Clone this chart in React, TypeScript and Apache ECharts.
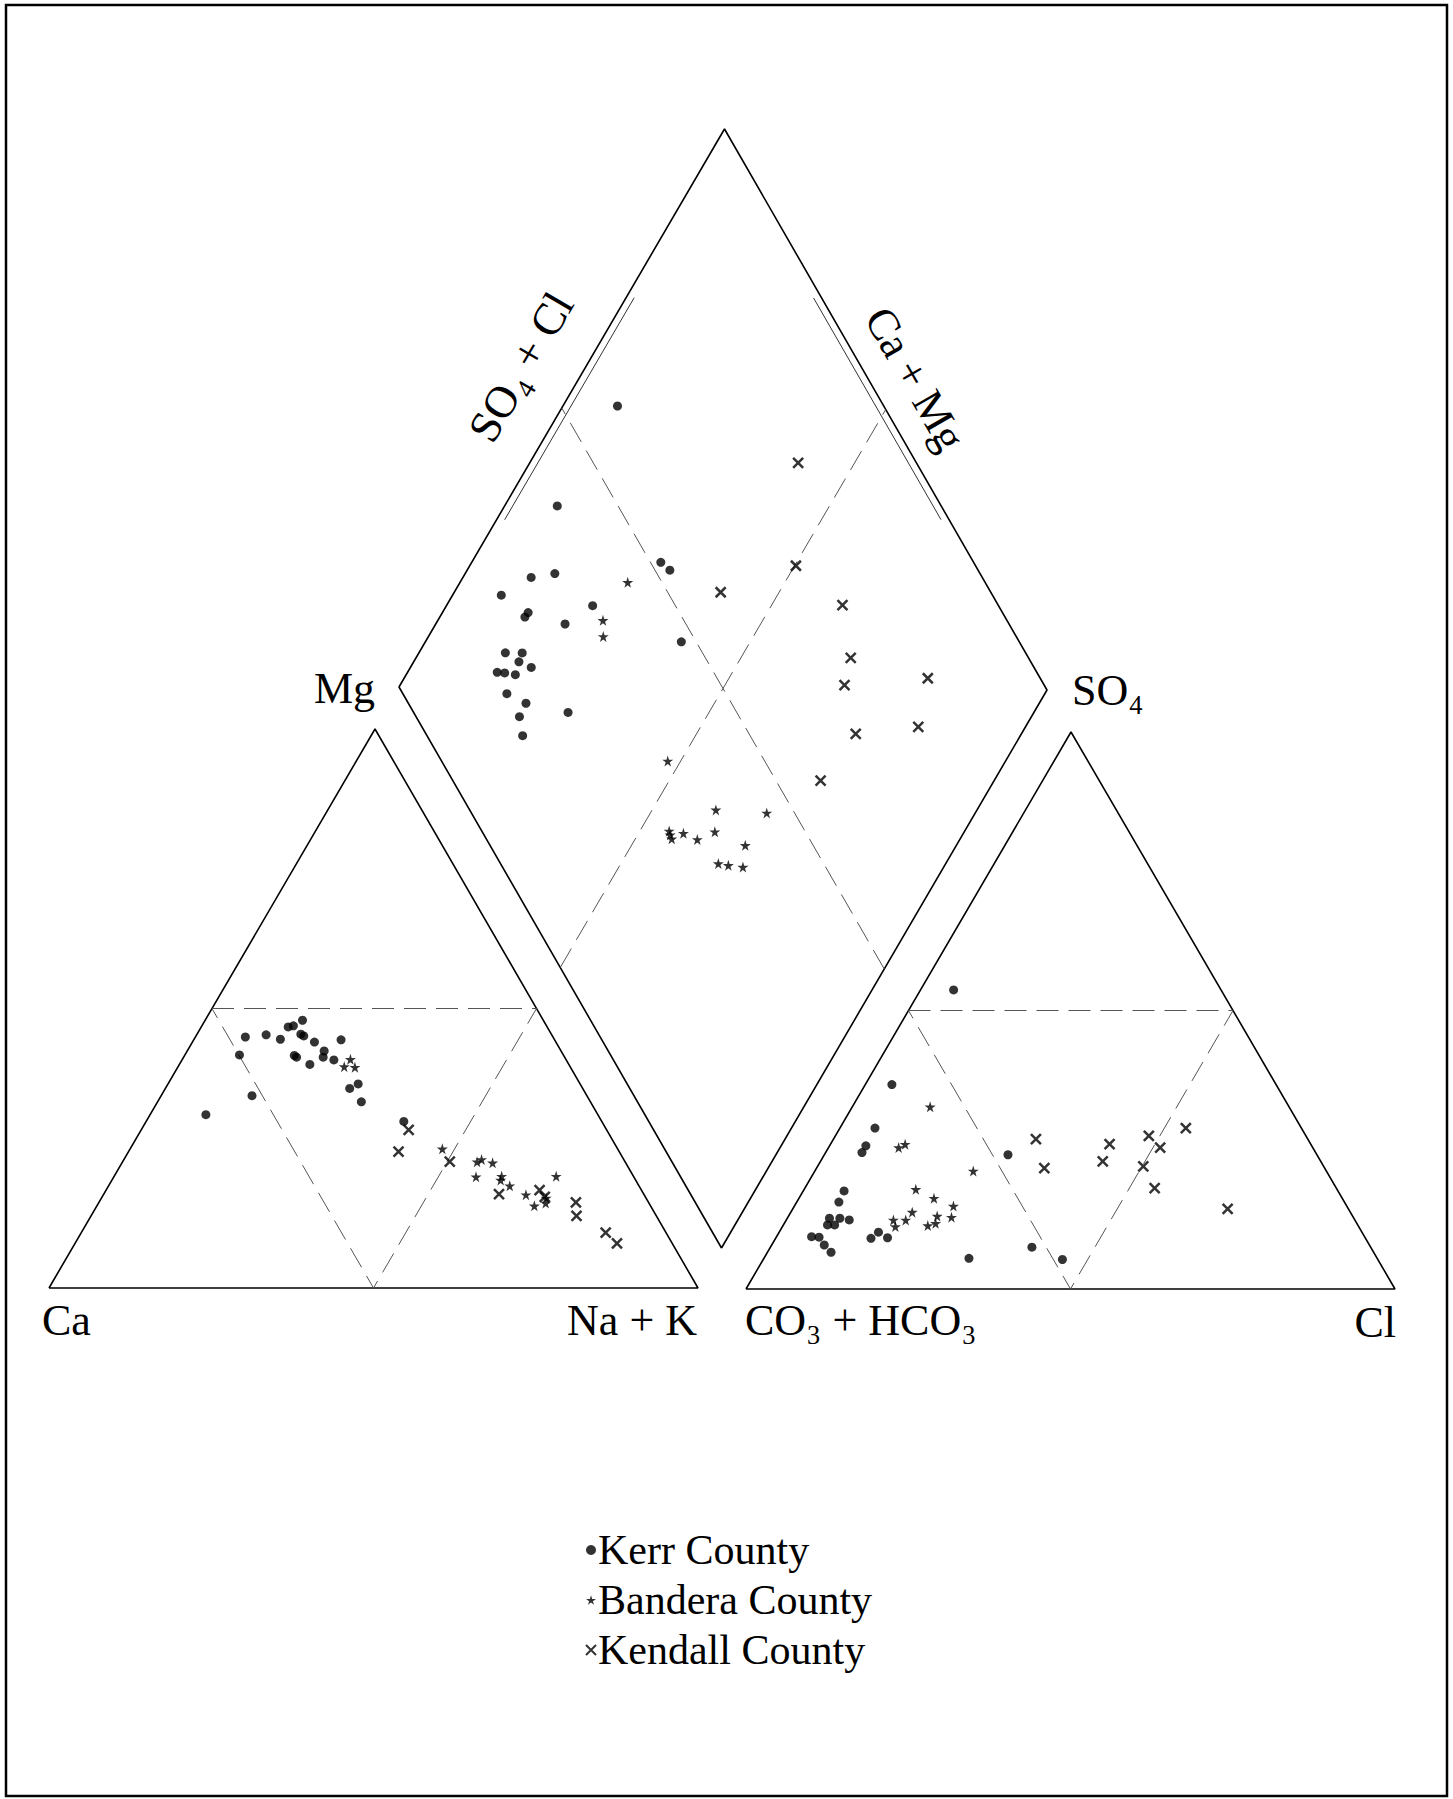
import React, { useEffect, useRef } from "react";
import * as echarts from "echarts";

// ---------- data (percent values) ----------
// Cation triangle: [Mg %, Na+K %]
const kerrCation = [
  [44.9, 7.7], [45.3, 10.7], [44.5, 13.3], [46.7, 13.4], [46.9, 14.1], [47.9, 15.0],
  [45.4, 16.0], [45.1, 16.6], [44.0, 18.8], [44.4, 22.7], [42.4, 21.1], [41.3, 21.5],
  [41.6, 16.9], [41.3, 17.4], [40.0, 20.1], [40.8, 23.4], [41.7, 8.4], [34.4, 14.0],
  [31.0, 8.6], [35.7, 28.4], [36.5, 29.3], [33.3, 31.4], [29.8, 39.7],
];
const banderaCation = [
  [40.9, 25.9], [39.6, 25.6], [39.5, 27.3], [24.9, 48.1], [22.6, 54.6], [23.0, 55.1],
  [22.4, 57.1], [19.9, 55.8], [20.0, 59.7], [19.3, 59.9], [18.3, 61.8], [16.7, 65.1],
  [20.0, 68.1], [14.7, 67.4], [15.2, 68.9], [16.1, 68.5],
];
const kendallCation = [
  [28.3, 41.2], [24.4, 41.6], [22.6, 50.4], [16.8, 60.9], [17.5, 66.8], [16.3, 68.2],
  [15.3, 73.5], [12.9, 74.8], [9.9, 80.8], [8.0, 83.5],
];

// Anion triangle: [SO4 %, Cl %]
const kerrAnion = [
  [53.7, 5.1], [36.7, 4.1], [28.9, 5.4], [25.7, 5.6], [24.5, 5.6], [17.6, 6.3],
  [15.6, 6.5], [12.7, 6.5], [12.7, 8.1], [12.4, 9.7], [11.5, 6.8], [11.5, 7.9],
  [9.4, 5.4], [9.3, 6.6], [7.9, 8.1], [6.6, 9.8], [9.1, 14.7], [10.2, 15.3],
  [9.2, 17.2], [5.5, 31.6], [24.1, 28.3], [7.5, 40.3], [5.3, 46.1],
];
const banderaAnion = [
  [32.7, 12.0], [25.4, 10.8], [26.0, 11.5], [21.2, 24.4], [17.9, 17.2], [16.3, 20.8],
  [14.9, 24.5], [13.8, 18.7], [12.4, 18.4], [12.4, 16.5], [11.2, 17.4], [13.1, 22.9],
  [11.8, 23.3], [11.4, 22.3], [12.9, 25.2],
];
const kendallAnion = [
  [26.9, 31.2], [21.7, 35.1], [26.0, 43.0], [22.9, 43.5], [27.5, 48.3], [25.4, 51.1],
  [28.9, 53.3], [22.0, 50.2], [18.1, 53.9], [14.4, 67.0],
];

// Diamond: [Ca+Mg %, SO4+Cl %]
const kerrDiamond = [
  [91.6, 58.8], [91.9, 40.6], [89.5, 30.2], [86.2, 34.2], [92.5, 24.0], [86.9, 25.7],
  [86.8, 26.6], [80.1, 31.3], [77.5, 37.2], [70.9, 51.6], [68.8, 52.3], [60.6, 47.7],
  [86.7, 19.5], [84.1, 22.1], [83.8, 20.8], [81.4, 22.2], [86.2, 16.5], [85.0, 17.6],
  [83.2, 19.1], [82.8, 16.1], [79.0, 18.2], [71.7, 23.9], [78.8, 16.0], [76.6, 14.8],
];
const banderaDiamond = [
  [74.2, 44.7], [74.6, 37.5], [73.1, 36.1], [52.0, 35.0], [40.2, 38.1], [32.1, 45.7],
  [45.5, 29.0], [45.0, 28.8], [44.4, 28.7], [43.1, 31.0], [40.4, 32.6], [38.4, 36.0],
  [32.5, 39.5], [35.0, 33.7], [33.3, 35.1], [30.9, 37.2],
];
const kendallDiamond = [
  [58.7, 81.7], [49.8, 72.2], [59.0, 58.2], [39.1, 75.9], [33.1, 72.5], [31.6, 69.1],
  [19.4, 82.6], [16.5, 76.8], [25.5, 66.5], [26.7, 56.9],
];

const seriesNames = ["Kerr County", "Bandera County", "Kendall County"];

// ---------- layout ----------
const W = 1453;
const H = 1799;
const CAT_A = [49, 1288];
const CAT_B = [698, 1288];
const CAT_C = [375, 729];
const AN_A = [746, 1289];
const AN_B = [1395, 1289];
const AN_C = [1071, 732];
const DIA_B = [721.5, 1248];
const DIA_L = [399, 687];
const DIA_R = [1047, 690];
const FONT = '"Liberation Serif", "Times New Roman", serif';

function tern(A: number[], B: number[], C: number[], b: number, c: number) {
  const fb = b / 100, fc = c / 100, fa = 1 - fb - fc;
  return [A[0] * fa + B[0] * fb + C[0] * fc, A[1] * fa + B[1] * fb + C[1] * fc];
}
const cat = (mg: number, nak: number) => tern(CAT_A, CAT_B, CAT_C, nak, mg);
const an = (so4: number, cl: number) => tern(AN_A, AN_B, AN_C, cl, so4);
function dia(camg: number, so4cl: number) {
  const a = camg / 100, s = so4cl / 100;
  return [
    DIA_B[0] + a * (DIA_L[0] - DIA_B[0]) + s * (DIA_R[0] - DIA_B[0]),
    DIA_B[1] + a * (DIA_L[1] - DIA_B[1]) + s * (DIA_R[1] - DIA_B[1]),
  ];
}

const STAR = "path://M50,0 L61,35 L98,35 L68,57 L79,91 L50,70 L21,91 L32,57 L2,35 L39,35 Z";
const CROSS = "path://M0,0 L10,10 M10,0 L0,10";

function lineSeries(points: number[][], dashed: boolean) {
  return {
    type: "line",
    data: points,
    symbol: "none",
    silent: true,
    z: 1,
    lineStyle: dashed
      ? { color: "#555", width: 1, type: [22, 10] }
      : { color: "#000", width: 1.6 },
  };
}

function offsetEdge(P: number[], Q: number[], t0: number, t1: number, off: number, side: number) {
  const dx = Q[0] - P[0], dy = Q[1] - P[1];
  const len = Math.hypot(dx, dy);
  const nx = (side * dy) / len, ny = (-side * dx) / len;
  return [
    [P[0] + dx * t0 + nx * off, P[1] + dy * t0 + ny * off],
    [P[0] + dx * t1 + nx * off, P[1] + dy * t1 + ny * off],
  ];
}

export default function App() {
  const ref = useRef<HTMLDivElement>(null);
  useEffect(() => {
    document.body.style.margin = "0";
    if (!ref.current) return;
    const chart = echarts.init(ref.current, undefined, { renderer: "svg" });

    const T = dia(100, 100);
    const outlines = [
      lineSeries([cat(0, 0), cat(0, 100), cat(100, 0), cat(0, 0)], false),
      lineSeries([an(0, 0), an(0, 100), an(100, 0), an(0, 0)], false),
      lineSeries([dia(0, 0), dia(100, 0), dia(100, 100), dia(0, 100), dia(0, 0)], false),
      lineSeries([cat(50, 0), cat(50, 50), cat(0, 50), cat(50, 0)], true),
      lineSeries([an(50, 0), an(50, 50), an(0, 50), an(50, 0)], true),
      lineSeries([dia(50, 0), dia(50, 100)], true),
      lineSeries([dia(0, 50), dia(100, 50)], true),
    ];
    const edgeL = offsetEdge(DIA_L, T, 0.306, 0.704, 7, -1);
    const edgeR = offsetEdge(T, DIA_R, 0.295, 0.69, 7, -1);
    const thin = (pts: number[][]) => ({
      type: "line",
      data: pts,
      symbol: "none",
      silent: true,
      lineStyle: { color: "#333", width: 1 },
    });

    const scatter = (name: string, symbol: string, size: number, data: number[][], extra: any) => ({
      type: "scatter",
      name,
      symbol,
      symbolSize: size,
      data,
      z: 3,
      itemStyle: extra,
    });

    const kerr = [
      ...kerrCation.map((d) => cat(d[0], d[1])),
      ...kerrAnion.map((d) => an(d[0], d[1])),
      ...kerrDiamond.map((d) => dia(d[0], d[1])),
    ];
    const bandera = [
      ...banderaCation.map((d) => cat(d[0], d[1])),
      ...banderaAnion.map((d) => an(d[0], d[1])),
      ...banderaDiamond.map((d) => dia(d[0], d[1])),
    ];
    const kendall = [
      ...kendallCation.map((d) => cat(d[0], d[1])),
      ...kendallAnion.map((d) => an(d[0], d[1])),
      ...kendallDiamond.map((d) => dia(d[0], d[1])),
    ];

    const txt = (text: string, x: number, y: number, align: string, size = 44, rotation = 0) => ({
      type: "text",
      x,
      y,
      rotation,
      silent: true,
      style: {
        text,
        x: 0,
        y: 0,
        font: `${size}px ${FONT}`,
        fill: "#000",
        textAlign: align,
        textVerticalAlign: "middle",
        align,
        verticalAlign: "middle",
      },
    });

    chart.setOption({
      animation: false,
      backgroundColor: "#fff",
      grid: { left: 0, top: 0, right: 0, bottom: 0 },
      xAxis: { type: "value", min: 0, max: W, show: false },
      yAxis: { type: "value", min: 0, max: H, inverse: true, show: false },
      legend: {
        data: seriesNames,
        orient: "vertical",
        left: 580,
        top: 1524,
        itemWidth: 10,
        itemHeight: 10,
        itemGap: 8,
        selectedMode: false,
        textStyle: { fontFamily: FONT, fontSize: 42, color: "#000", padding: [0, 0, 0, -3] },
      },
      graphic: [
        {
          type: "rect",
          silent: true,
          shape: { x: 6, y: 5, width: 1441, height: 1791 },
          style: { fill: "none", stroke: "#000", lineWidth: 2.5 },
        },
        txt("Mg", 314, 688, "left"),
        txt("SO₄", 1072, 690, "left"),
        txt("Ca", 42, 1320, "left"),
        txt("Na + K", 697, 1320, "right"),
        txt("CO₃ + HCO₃", 745, 1320, "left"),
        txt("Cl", 1396, 1322, "right"),
        txt("SO₄ + Cl", 521, 367, "center", 45, 1.044),
        txt("Ca + Mg", 915, 379, "center", 44, -1.05),
      ],
      series: [
        ...outlines,
        thin(edgeL),
        thin(edgeR),
        scatter(seriesNames[0], "circle", 9, kerr, { color: "#000" }),
        scatter(seriesNames[1], STAR, 11, bandera, { color: "#000" }),
        scatter(seriesNames[2], CROSS, 10, kendall, {
          color: "#000",
          borderColor: "#000",
          borderWidth: 2.5,
        }),
      ],
    });
    return () => chart.dispose();
  }, []);
  return <div ref={ref} style={{ width: W, height: H }} />;
}
